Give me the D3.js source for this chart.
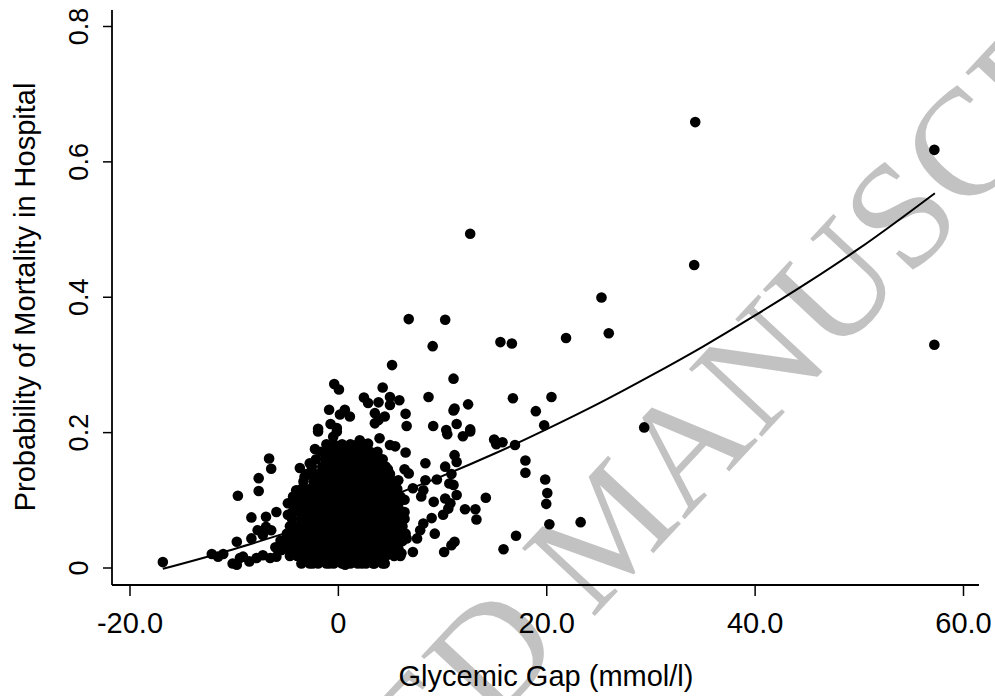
<!DOCTYPE html>
<html>
<head>
<meta charset="utf-8">
<script src="https://cdn.jsdelivr.net/npm/d3@7"></script>
<style>
  body { margin: 0; background: #fff; }
  svg { display: block; }
</style>
</head>
<body>
<svg id="chart" width="995" height="696"></svg>
<script>
// Axis ticks
const xTicks = [-20, 0, 20, 40, 60];
const xTickLabels = ['-20.0', '0', '20.0', '40.0', '60.0'];
const yTicks = [0, 0.2, 0.4, 0.6, 0.8];
const yTickLabels = ['0', '0.2', '0.4', '0.6', '0.8'];

// Fitted curve
const fitGap  = [-16.8, -10, -5, 0, 5, 10, 15, 20, 25, 30, 35, 40, 45, 50, 57.3];
const fitProb = [-0.002, 0.027, 0.051, 0.076, 0.105, 0.135, 0.168, 0.204, 0.242, 0.283, 0.326, 0.372, 0.420, 0.471, 0.553];

// Individual (readable) points: [glycemic gap, probability]
const scatterPoints = [
  [-16.8,0.008],[-12.1,0.020],[-11.5,0.016],[-11.0,0.020],[-9.7,0.038],[-9.6,0.106],[-8.3,0.074],
  [-7.6,0.132],[-7.6,0.113],[-6.6,0.161],[-6.4,0.146],[-8.3,0.043],[-10.1,0.006],[-9.4,0.014],
  [-6.9,0.075],[-5.9,0.082],[-7.7,0.055],[-6.9,0.060],[-6.4,0.055],[-7.2,0.048],[-4.8,0.095],
  [-4.8,0.078],[-9.1,0.016],[-8.5,0.009],[-7.8,0.014],[-7.2,0.018],[-6.5,0.014],[-5.9,0.016],
  [-5.4,0.026],[-4.9,0.041],[-9.7,0.004],[-6.0,0.030],[-5.5,0.040],
  [-1.9,0.201],[-0.1,0.201],[-0.45,0.193],[-2.2,0.175],[2.1,0.188],[2.9,0.183],[4.0,0.191],
  [5.0,0.181],[5.5,0.179],[6.5,0.170],[8.4,0.154],[6.4,0.145],[6.8,0.139],[4.8,0.145],[5.8,0.129],
  [8.4,0.129],[9.5,0.130],[7.2,0.117],[8.2,0.114],[8.0,0.105],[9.2,0.097],[6.4,0.100],[6.4,0.082],
  [9.0,0.073],[8.2,0.065],[7.9,0.055],[9.3,0.050],[7.6,0.043],[6.6,0.043],[7.2,0.023],[6.1,0.021],
  [5.2,0.033],[-3.65,0.147],[-4.0,0.114],[-4.3,0.105],[-4.45,0.080],[-2.7,0.154],[-3.2,0.134],
  [-3.4,0.009],[-2.4,0.006],[-0.8,0.006],[0.7,0.004],[2.3,0.006],[3.4,0.006],[4.5,0.006],
  [6.8,0.367],[9.1,0.327],[5.2,0.299],[-0.35,0.271],[0.1,0.263],[4.3,0.266],[2.5,0.251],[2.9,0.243],
  [3.9,0.244],[5.0,0.252],[5.9,0.247],[5.0,0.240],[8.7,0.252],[-0.84,0.233],[0.67,0.233],[0.2,0.226],
  [1.15,0.223],[3.55,0.228],[3.9,0.218],[4.5,0.223],[3.55,0.213],[6.5,0.227],[6.6,0.209],[9.15,0.209],
  [-0.7,0.212],[-1.9,0.205],[-0.1,0.206],
  [10.3,0.366],[15.6,0.333],[16.7,0.331],[21.9,0.339],[11.1,0.279],[11.2,0.235],[11.1,0.232],
  [12.5,0.241],[16.8,0.250],[20.5,0.252],[19.0,0.231],[19.8,0.210],[11.4,0.212],[12.7,0.204],[10.4,0.203],
  [10.5,0.197],[12.0,0.194],[12.7,0.201],[15.0,0.189],[15.2,0.182],[15.8,0.185],[17.0,0.181],
  [18.0,0.158],[18.0,0.140],[19.9,0.130],[20.1,0.110],[20.0,0.094],[20.3,0.064],[23.3,0.067],
  [17.1,0.047],[15.9,0.027],[14.2,0.103],[13.2,0.086],[13.3,0.071],[12.2,0.086],[11.2,0.166],
  [11.4,0.156],[10.3,0.149],[10.9,0.138],[11.1,0.122],[11.4,0.107],[10.3,0.102],[10.6,0.087],
  [10.1,0.078],[11.2,0.038],[10.9,0.033],[10.2,0.023],[10.8,0.095],[10.7,0.124],
  [12.7,0.493],[25.3,0.399],[26.0,0.346],[29.4,0.207],[34.3,0.658],[34.2,0.447],[57.25,0.617],[57.25,0.329]
];

// The dense cluster near zero, read row by row: [probability, gaps along that row]
const blobRows = [
  [0.006, [-3.5,-2.7,-1.9,-1.1,-0.4,0.4,1.2,1.9,2.7,3.5,4.3]],
  [0.017, [-4.6,-3.9,-3.1,-2.3,-1.5,-0.8,0.0,0.8,1.6,2.3,3.1,3.9,4.6,5.4,6.0]],
  [0.028, [-5.0,-4.3,-3.5,-2.7,-1.9,-1.2,-0.4,0.4,1.2,1.9,2.7,3.5,4.2,5.0,5.8]],
  [0.039, [-5.1,-4.6,-3.9,-3.1,-2.3,-1.5,-0.8,0.0,0.8,1.6,2.3,3.1,3.9,4.6,5.4,6.2]],
  [0.050, [-4.9,-4.2,-3.5,-2.7,-1.9,-1.2,-0.4,0.4,1.2,1.9,2.7,3.5,4.2,5.0,5.8,6.5]],
  [0.061, [-4.6,-3.9,-3.1,-2.3,-1.5,-0.8,0.0,0.8,1.6,2.3,3.1,3.9,4.6,5.4,6.2]],
  [0.072, [-4.4,-3.5,-2.7,-1.9,-1.2,-0.4,0.4,1.2,1.9,2.7,3.5,4.2,5.0,5.8,6.4]],
  [0.083, [-4.3,-3.9,-3.1,-2.3,-1.5,-0.8,0.0,0.8,1.6,2.3,3.1,3.9,4.6,5.4,6.1]],
  [0.094, [-4.0,-3.5,-2.7,-1.9,-1.2,-0.4,0.4,1.2,1.9,2.7,3.5,4.2,5.0,5.8]],
  [0.105, [-3.8,-3.1,-2.3,-1.5,-0.8,0.0,0.8,1.6,2.3,3.1,3.9,4.6,5.4,6.0]],
  [0.116, [-3.5,-2.7,-1.9,-1.2,-0.4,0.4,1.2,1.9,2.7,3.5,4.2,5.0,5.7]],
  [0.127, [-3.3,-2.3,-1.5,-0.8,0.0,0.8,1.6,2.3,3.1,3.9,4.6,5.4]],
  [0.138, [-3.0,-2.7,-1.9,-1.2,-0.4,0.4,1.2,1.9,2.7,3.5,4.2,5.0]],
  [0.149, [-2.5,-1.5,-0.8,0.0,0.8,1.6,2.3,3.1,3.9,4.6]],
  [0.160, [-2.1,-1.2,-0.4,0.4,1.2,1.9,2.7,3.5,4.3]],
  [0.171, [-1.6,-0.8,0.0,0.8,1.6,2.3,3.1,3.8]],
  [0.182, [-1.1,-0.4,0.4,1.2,1.9,2.7]]
];

const allPoints = scatterPoints.concat(
  blobRows.flatMap(([p, gaps]) => gaps.map(g => [g, p]))
);

const svg = d3.select('#chart');
const FONT = 'Liberation Sans, Arial, sans-serif';

const x = d3.scaleLinear().domain([-20, 60]).range([129.5, 963]);
const y = d3.scaleLinear().domain([0, 0.8]).range([567.5, 26]);

const axisX0 = 112, axisY0 = 585;

// Watermark (behind the data)
svg.append('text')
  .attr('transform', 'translate(645,562) rotate(-47)')
  .attr('text-anchor', 'middle')
  .attr('font-family', 'Liberation Serif, Times New Roman, serif')
  .attr('font-size', 152)
  .attr('fill', '#c2c2c2')
  .text('ACCEPTED MANUSCRIPT');

// Axes
const gx = svg.append('g')
  .attr('transform', `translate(0,${axisY0})`)
  .call(d3.axisBottom(x).tickValues(xTicks).tickFormat((d, i) => xTickLabels[i]).tickSize(11).tickPadding(16));
gx.select('.domain').remove();
gx.selectAll('line').attr('stroke', '#000').attr('stroke-width', 1.5);
gx.selectAll('text').attr('font-family', FONT).attr('font-size', 29).attr('fill', '#000');
gx.append('line').attr('x1', axisX0).attr('x2', 979).attr('y1', 0).attr('y2', 0)
  .attr('stroke', '#000').attr('stroke-width', 1.8);

const gy = svg.append('g')
  .attr('transform', `translate(${axisX0},0)`)
  .call(d3.axisLeft(y).tickValues(yTicks).tickFormat((d, i) => yTickLabels[i]).tickSize(9));
gy.select('.domain').remove();
gy.selectAll('line').attr('stroke', '#000').attr('stroke-width', 1.5);
gy.selectAll('text')
  .attr('transform', 'rotate(-90)')
  .attr('x', 0).attr('y', -24).attr('dy', 0)
  .attr('text-anchor', 'middle')
  .attr('font-family', FONT).attr('font-size', 27).attr('fill', '#000');
gy.append('line').attr('x1', 0).attr('x2', 0).attr('y1', 10).attr('y2', axisY0)
  .attr('stroke', '#000').attr('stroke-width', 1.8);

// Axis titles
svg.append('text')
  .attr('x', 546).attr('y', 686)
  .attr('text-anchor', 'middle')
  .attr('font-family', FONT).attr('font-size', 29)
  .text('Glycemic Gap (mmol/l)');

svg.append('text')
  .attr('transform', 'translate(35,297) rotate(-90)')
  .attr('text-anchor', 'middle')
  .attr('font-family', FONT).attr('font-size', 29)
  .text('Probability of Mortality in Hospital');

// Points
svg.append('g')
  .selectAll('circle')
  .data(allPoints)
  .join('circle')
  .attr('cx', d => x(d[0]))
  .attr('cy', d => y(d[1]))
  .attr('r', 5.3)
  .attr('fill', '#000');

// Fitted curve
const fit = fitGap.map((g, i) => [g, fitProb[i]]);
svg.append('path')
  .datum(fit)
  .attr('fill', 'none')
  .attr('stroke', '#000')
  .attr('stroke-width', 2)
  .attr('d', d3.line().x(d => x(d[0])).y(d => y(d[1])).curve(d3.curveMonotoneX));
</script>
</body>
</html>
